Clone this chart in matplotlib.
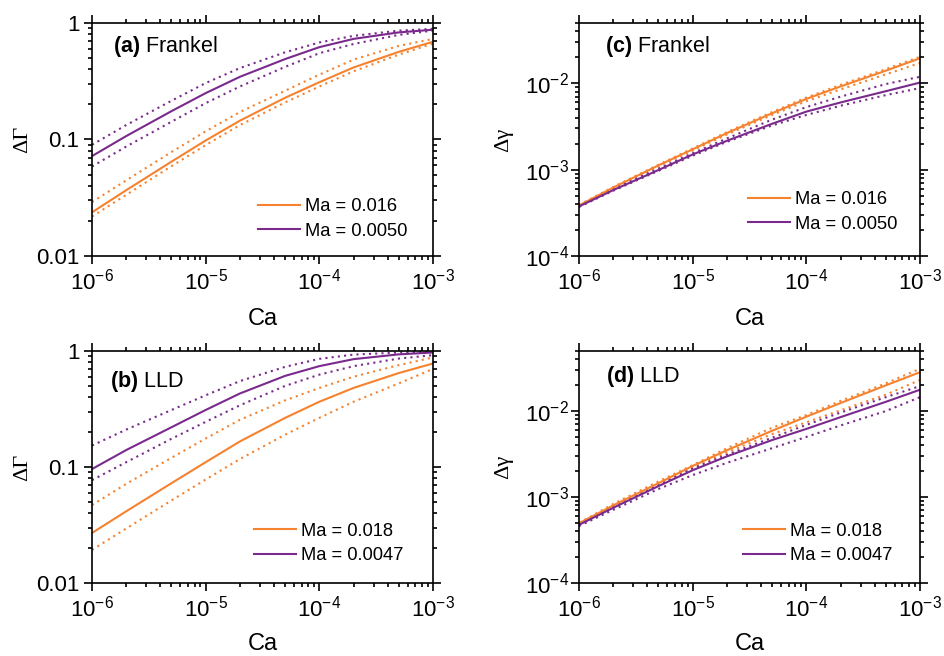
from matplotlib import pyplot as plt
from matplotlib import ticker
import numpy as np

# font settings (Arial-like sans, serif for the Greek axis labels)
plt.rcParams['font.family'] = ['Liberation Sans', 'DejaVu Sans']
plt.rcParams['mathtext.fontset'] = 'custom'
plt.rcParams['mathtext.rm'] = 'Liberation Sans'
plt.rcParams['mathtext.it'] = 'Liberation Sans:italic'
plt.rcParams['mathtext.bf'] = 'Liberation Sans:bold'
plt.rcParams['axes.unicode_minus'] = False
plt.rcParams['axes.linewidth'] = 1.2

# Ca values (x axis)
ca = [1e-6, 2e-6, 5e-6, 1e-5, 2e-5, 5e-5, 1e-4, 2e-4, 5e-4, 1e-3]

# (a) Frankel, delta Gamma
a_or = [0.0237, 0.0367, 0.0645, 0.098, 0.145, 0.228, 0.31, 0.415, 0.565, 0.69]
a_or_hi = [0.029, 0.0446, 0.078, 0.1175, 0.172, 0.262, 0.36, 0.485, 0.635, 0.73]
a_or_lo = [0.0218, 0.0335, 0.059, 0.0895, 0.133, 0.208, 0.285, 0.385, 0.535, 0.665]
a_pu = [0.072, 0.107, 0.175, 0.25, 0.345, 0.49, 0.62, 0.73, 0.83, 0.875]
a_pu_hi = [0.090, 0.133, 0.215, 0.305, 0.41, 0.56, 0.68, 0.775, 0.86, 0.89]
a_pu_lo = [0.0586, 0.087, 0.142, 0.205, 0.285, 0.42, 0.55, 0.66, 0.79, 0.86]

# (b) LLD, delta Gamma
b_or = [0.027, 0.0415, 0.0725, 0.110, 0.166, 0.265, 0.365, 0.48, 0.645, 0.78]
b_or_hi = [0.047, 0.0715, 0.120, 0.176, 0.255, 0.375, 0.48, 0.60, 0.755, 0.88]
b_or_lo = [0.0193, 0.0295, 0.0515, 0.078, 0.117, 0.19, 0.265, 0.365, 0.525, 0.70]
b_pu = [0.096, 0.14, 0.22, 0.31, 0.43, 0.61, 0.74, 0.85, 0.935, 0.97]
b_pu_hi = [0.153, 0.21, 0.31, 0.415, 0.55, 0.73, 0.855, 0.93, 0.97, 0.985]
b_pu_lo = [0.077, 0.11, 0.175, 0.245, 0.34, 0.50, 0.625, 0.74, 0.86, 0.92]

# (c) Frankel, delta gamma
c_or = [3.85e-4, 6.2e-4, 1.12e-3, 1.72e-3, 2.65e-3, 4.5e-3, 6.6e-3, 9.2e-3, 1.4e-2, 1.95e-2]
c_or_hi = [3.9e-4, 6.3e-4, 1.14e-3, 1.76e-3, 2.72e-3, 4.65e-3, 6.85e-3, 9.6e-3, 1.46e-2, 2.03e-2]
c_or_lo = [3.8e-4, 6.1e-4, 1.1e-3, 1.67e-3, 2.55e-3, 4.3e-3, 6.2e-3, 8.5e-3, 1.27e-2, 1.72e-2]
c_pu = [3.75e-4, 5.8e-4, 9.9e-4, 1.5e-3, 2.16e-3, 3.4e-3, 4.7e-3, 6.0e-3, 8.1e-3, 1.02e-2]
c_pu_hi = [3.8e-4, 6.0e-4, 1.03e-3, 1.55e-3, 2.3e-3, 3.8e-3, 5.3e-3, 7.0e-3, 9.8e-3, 1.19e-2]
c_pu_lo = [3.7e-4, 5.7e-4, 9.7e-4, 1.45e-3, 2.1e-3, 3.25e-3, 4.3e-3, 5.5e-3, 7.3e-3, 8.8e-3]

# (d) LLD, delta gamma
d_or = [4.95e-4, 8.0e-4, 1.45e-3, 2.3e-3, 3.5e-3, 5.9e-3, 8.6e-3, 1.24e-2, 1.99e-2, 2.83e-2]
d_or_hi = [5.0e-4, 8.3e-4, 1.52e-3, 2.35e-3, 3.7e-3, 6.4e-3, 9.0e-3, 1.31e-2, 2.1e-2, 3.1e-2]
d_or_lo = [4.9e-4, 7.9e-4, 1.42e-3, 2.2e-3, 3.3e-3, 5.4e-3, 7.4e-3, 1.02e-2, 1.55e-2, 2.3e-2]
d_pu = [4.75e-4, 7.5e-4, 1.34e-3, 2.05e-3, 2.97e-3, 4.6e-3, 6.2e-3, 8.5e-3, 1.28e-2, 1.77e-2]
d_pu_hi = [4.8e-4, 7.6e-4, 1.37e-3, 2.15e-3, 3.1e-3, 4.9e-3, 6.9e-3, 9.6e-3, 1.45e-2, 1.95e-2]
d_pu_lo = [4.6e-4, 7.1e-4, 1.24e-3, 1.8e-3, 2.5e-3, 3.7e-3, 5.0e-3, 6.8e-3, 1.0e-2, 1.45e-2]

orange = '#F5822F'
purple = '#7A2A8C'
dot = (0, (1, 2))

fig = plt.figure(figsize=(9.44, 6.56), dpi=100)
ax_a = fig.add_axes([0.0975, 0.6098, 0.3612, 0.3552])
ax_c = fig.add_axes([0.6134, 0.6098, 0.3612, 0.3552])
ax_b = fig.add_axes([0.0975, 0.1113, 0.3612, 0.3537])
ax_d = fig.add_axes([0.6134, 0.1113, 0.3612, 0.3537])


def draw(ax, o, o_hi, o_lo, p, p_hi, p_lo, lab_o, lab_p):
    ax.plot(ca, o_hi, color=orange, lw=1.5, ls=dot)
    ax.plot(ca, o_lo, color=orange, lw=1.5, ls=dot)
    ax.plot(ca, p_hi, color=purple, lw=1.5, ls=dot)
    ax.plot(ca, p_lo, color=purple, lw=1.5, ls=dot)
    ax.plot(ca, o, color=orange, lw=1.5, label=lab_o)
    ax.plot(ca, p, color=purple, lw=1.5, label=lab_p)
    ax.set_xscale('log')
    ax.set_yscale('log')
    ax.set_xlim(1e-6, 1e-3)
    ax.set_xlabel('Ca', fontsize=17)
    ax.xaxis.set_minor_formatter(ticker.NullFormatter())
    ax.yaxis.set_minor_formatter(ticker.NullFormatter())
    ax.tick_params(which='both', direction='out', top=True, right=True,
                   labelsize=16, width=1.2)
    ax.tick_params(which='major', length=6, pad=3)
    ax.tick_params(which='minor', length=3.2)


draw(ax_a, a_or, a_or_hi, a_or_lo, a_pu, a_pu_hi, a_pu_lo, 'Ma = 0.016', 'Ma = 0.0050')
draw(ax_b, b_or, b_or_hi, b_or_lo, b_pu, b_pu_hi, b_pu_lo, 'Ma = 0.018', 'Ma = 0.0047')
draw(ax_c, c_or, c_or_hi, c_or_lo, c_pu, c_pu_hi, c_pu_lo, 'Ma = 0.016', 'Ma = 0.0050')
draw(ax_d, d_or, d_or_hi, d_or_lo, d_pu, d_pu_hi, d_pu_lo, 'Ma = 0.018', 'Ma = 0.0047')

# left column: delta Gamma from 0.01 to 1
for ax in (ax_a, ax_b):
    ax.set_ylim(0.01, 1)
    ax.yaxis.set_major_locator(ticker.FixedLocator([0.01, 0.1, 1]))
    ax.yaxis.set_major_formatter(ticker.FixedFormatter(['0.01', '0.1', '1']))
    ax.set_ylabel('ΔΓ', fontsize=16, family='Liberation Serif')
    ax.yaxis.set_label_coords(-0.176, 0.5)

# right column: delta gamma from 1e-4 to 5e-2
for ax in (ax_c, ax_d):
    ax.set_ylim(1e-4, 5e-2)
    ax.tick_params(axis='y', which='major', pad=1)
    ax.set_ylabel('Δγ', fontsize=16, family='Liberation Serif')
    ax.yaxis.set_label_coords(-0.194, 0.5)

# x label positions
ax_a.xaxis.set_label_coords(0.5, -0.223)
ax_c.xaxis.set_label_coords(0.5, -0.223)
ax_b.xaxis.set_label_coords(0.5, -0.216)
ax_d.xaxis.set_label_coords(0.5, -0.216)

# panel labels
ax_a.text(0.062, 0.897, r'$\mathbf{(a)}$ Frankel', transform=ax_a.transAxes, fontsize=15.5, va='center')
ax_c.text(0.076, 0.897, r'$\mathbf{(c)}$ Frankel', transform=ax_c.transAxes, fontsize=15.5, va='center')
ax_b.text(0.053, 0.870, r'$\mathbf{(b)}$ LLD', transform=ax_b.transAxes, fontsize=15.5, va='center')
ax_d.text(0.079, 0.888, r'$\mathbf{(d)}$ LLD', transform=ax_d.transAxes, fontsize=15.5, va='center')

# legends (solid lines only)
leg_pos = {ax_a: (0.487, 0.07), ax_c: (0.496, 0.10), ax_b: (0.475, 0.08), ax_d: (0.481, 0.08)}
for ax, pos in leg_pos.items():
    ax.legend(loc='lower left', bbox_to_anchor=pos, frameon=False, fontsize=13.2,
              handlelength=2.3, handletextpad=0.25, labelspacing=0.42,
              borderpad=0, borderaxespad=0)

fig.savefig('out.png', dpi=100)
